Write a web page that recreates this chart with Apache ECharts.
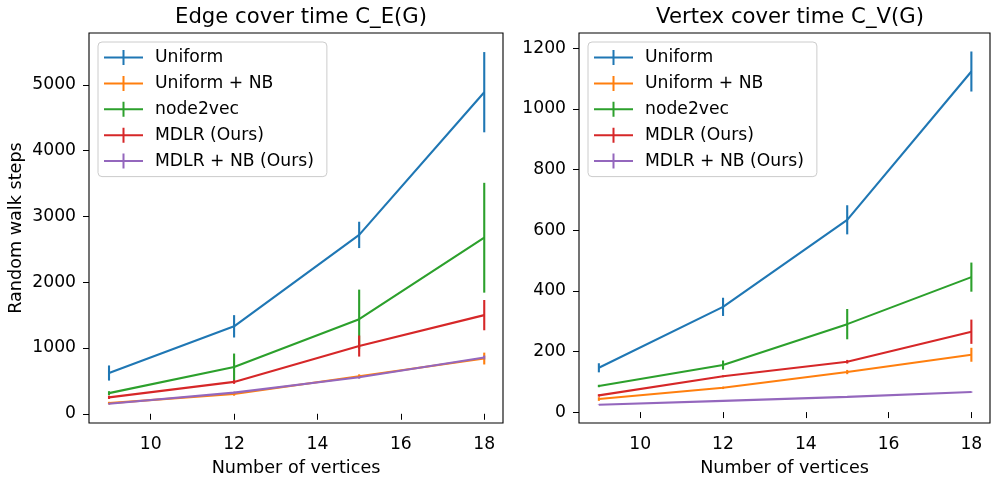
<!DOCTYPE html>
<html>
<head>
<meta charset="utf-8">
<script src="https://cdn.jsdelivr.net/npm/echarts@6/dist/echarts.min.js"></script>
<style>html,body{margin:0;padding:0;background:#fff}#c{width:991px;height:477px}</style>
</head>
<body>
<div id="c"></div>
<script>
// ---- data ----
const xs = [9, 12, 15, 18];
const methods = ['Uniform', 'Uniform + NB', 'node2vec', 'MDLR (Ours)', 'MDLR + NB (Ours)'];
const colors = ['#1f77b4', '#ff7f0e', '#2ca02c', '#d62728', '#9467bd'];

// Edge cover time (means and error half-widths)
const uniformE = [620, 1330, 2720, 4890];
const uniformEErr = [115, 170, 200, 610];
const nbE = [162, 300, 570, 840];
const nbEErr = [20, 25, 30, 90];
const n2vE = [314, 711, 1438, 2677];
const n2vEErr = [30, 205, 450, 835];
const mdlrE = [250, 485, 1030, 1500];
const mdlrEErr = [25, 30, 160, 230];
const mdlrNbE = [152, 322, 555, 855];
const mdlrNbEErr = [10, 15, 20, 30];

// Vertex cover time
const uniformV = [146, 347, 634, 1123];
const uniformVErr = [15, 30, 48, 66];
const nbV = [43, 80, 132, 189];
const nbVErr = [6, 4, 7, 23];
const n2vV = [86, 155, 290, 445];
const n2vVErr = [4, 15, 50, 48];
const mdlrV = [55, 118, 166, 265];
const mdlrVErr = [4, 3, 6, 40];
const mdlrNbV = [24, 37, 50, 66];
const mdlrNbVErr = [1, 1, 1, 2];

const xTicks = [10, 12, 14, 16, 18];
const yTicksE = [0, 1000, 2000, 3000, 4000, 5000];
const yTicksV = [0, 200, 400, 600, 800, 1000, 1200];

const edgeMeans = [uniformE, nbE, n2vE, mdlrE, mdlrNbE];
const edgeErrs = [uniformEErr, nbEErr, n2vEErr, mdlrEErr, mdlrNbEErr];
const vertMeans = [uniformV, nbV, n2vV, mdlrV, mdlrNbV];
const vertErrs = [uniformVErr, nbVErr, n2vVErr, mdlrVErr, mdlrNbVErr];

// ---- chart ----
const FONT = 'DejaVu Sans';
const FS = 17.2;
const chart = echarts.init(document.getElementById('c'), null, {renderer: 'canvas'});

function errRender(params, api) {
  const x = api.value(0), y = api.value(1), e = api.value(2);
  const p1 = api.coord([x, y - e]);
  const p2 = api.coord([x, y + e]);
  return {type: 'line', shape: {x1: p1[0], y1: p1[1], x2: p2[0], y2: p2[1]},
          style: {stroke: api.visual('color'), lineWidth: 2.1}};
}

const series = [];
function addPanel(means, errs, gi) {
  methods.forEach((m, i) => {
    series.push({
      type: 'line', name: m, xAxisIndex: gi, yAxisIndex: gi,
      data: xs.map((x, k) => [x, means[i][k]]),
      showSymbol: false, symbol: 'none',
      lineStyle: {color: colors[i], width: 2.1}, itemStyle: {color: colors[i]},
      color: colors[i], animation: false, silent: true
    });
    series.push({
      type: 'custom', name: m, xAxisIndex: gi, yAxisIndex: gi,
      data: xs.map((x, k) => [x, means[i][k], errs[i][k]]),
      encode: {x: 0, y: 1},
      renderItem: errRender,
      itemStyle: {color: colors[i]}, color: colors[i],
      animation: false, silent: true
    });
  });
}
addPanel(edgeMeans, edgeErrs, 0);
addPanel(vertMeans, vertErrs, 1);

const icon = 'path://M0,6.5H18.5V0H20.5V6.5H39V8.5H20.5V15H18.5V8.5H0Z';
function legendAt(left) {
  return {
    left: left, top: 42, orient: 'vertical',
    data: methods.map((m, i) => ({name: m, icon: icon, itemStyle: {color: colors[i]}})),
    itemWidth: 39, itemHeight: 15, itemGap: 8.9,
    padding: [7, 13, 7, 6],
    backgroundColor: 'rgba(255,255,255,0.8)',
    borderColor: '#cccccc', borderWidth: 1, borderRadius: 4,
    textStyle: {fontFamily: FONT, fontSize: FS, color: '#000', padding: [0, 0, 0, 7]},
    selectedMode: false
  };
}

const plain = v => String(v);
function xAxisFor(gi) {
  return {
    type: 'value', gridIndex: gi, min: 8.52, max: 18.45,
    name: 'Number of vertices', nameLocation: 'middle', nameGap: 36.5,
    nameTextStyle: {fontFamily: FONT, fontSize: 17.6, color: '#000'},
    axisLine: {show: false},
    axisTick: {show: true, inside: false, length: 6, lineStyle: {color: '#000', width: 1},
               customValues: xTicks},
    axisLabel: {fontFamily: FONT, fontSize: FS, color: '#000', margin: 13, customValues: xTicks, formatter: plain},
    splitLine: {show: false}
  };
}
function yAxisFor(gi, min, max, ticks, name) {
  return {
    type: 'value', gridIndex: gi, min: min, max: max,
    name: name, nameLocation: 'middle', nameGap: 64, nameRotate: 90,
    nameTextStyle: {fontFamily: FONT, fontSize: 17.6, color: '#000'},
    axisLine: {show: false},
    axisTick: {show: true, inside: false, length: 6, lineStyle: {color: '#000', width: 1},
               customValues: ticks},
    axisLabel: {fontFamily: FONT, fontSize: FS, color: '#000', margin: 13, customValues: ticks, formatter: plain},
    splitLine: {show: false}
  };
}

chart.setOption({
  backgroundColor: '#fff',
  animation: false,
  title: [
    {text: 'Edge cover time C_E(G)', left: 296, top: 2, textAlign: 'center',
     textStyle: {fontFamily: FONT, fontSize: 21.2, fontWeight: 'normal', color: '#000'}},
    {text: 'Vertex cover time C_V(G)', left: 785, top: 2, textAlign: 'center',
     textStyle: {fontFamily: FONT, fontSize: 21.2, fontWeight: 'normal', color: '#000'}}
  ],
  legend: [legendAt(98), legendAt(588)],
  grid: [
    {left: 89, top: 33, width: 414, height: 390, show: true, borderColor: '#000', borderWidth: 1.1,
     backgroundColor: 'transparent', outerBoundsMode: 'none', containLabel: false},
    {left: 579, top: 33, width: 411, height: 390, show: true, borderColor: '#000', borderWidth: 1.1,
     backgroundColor: 'transparent', outerBoundsMode: 'none', containLabel: false}
  ],
  xAxis: [xAxisFor(0), xAxisFor(1)],
  yAxis: [yAxisFor(0, -140, 5790, yTicksE, 'Random walk steps'), yAxisFor(1, -36, 1250, yTicksV, '')],
  series: series
});
</script>
</body>
</html>
